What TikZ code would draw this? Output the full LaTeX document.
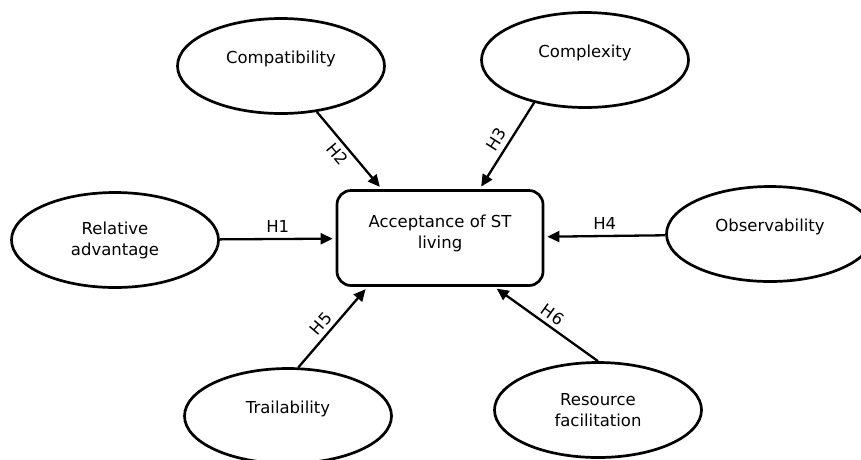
\documentclass[tikz,border=0pt]{standalone}
\usepackage{fontspec}
\setmainfont{DejaVu Sans}
\usetikzlibrary{arrows.meta,shapes.geometric}
\tikzset{
  factor/.style={
    draw=black,
    ellipse,
    line width=2.7pt,
    minimum width=207pt,
    minimum height=95pt,
    inner sep=0pt,
    align=center,
    font=\fontsize{16.5}{21}\selectfont
  },
  oneline/.style={text depth=17pt},
  target/.style={
    draw=black,
    rounded corners=14pt,
    line width=2.7pt,
    minimum width=206pt,
    minimum height=95pt,
    inner sep=0pt,
    align=center,
    text height=25pt,
    font=\fontsize{16.5}{21}\selectfont
  },
  edge/.style={-{Triangle[length=12pt,width=11pt]}, line width=2.3pt, shorten >=3pt},
  hyp/.style={inner sep=2pt, font=\fontsize{16.5}{20}\selectfont}
}

\begin{document}
\begin{tikzpicture}[x=1pt, y=-1pt]
  \useasboundingbox (0,0) rectangle (861,459);
  \node[target] (accept) at (440,238) {Acceptance of ST\\living};
  \node[factor, oneline] (compat) at (281,66) {Compatibility};
  \node[factor, oneline] (complex) at (585,60) {Complexity};
  \node[factor] (relative) at (115,240) {Relative\\advantage};
  \node[factor, oneline] (observe) at (770,234) {Observability};
  \node[factor, oneline] (trial) at (288,416) {Trailability};
  \node[factor] (resource) at (598,410) {Resource\\facilitation};
  \draw[edge] (relative) to node[hyp, above=3pt] {H1} (accept);
  \draw[edge] (compat.308) to node[hyp, sloped, below=2pt, pos=0.45] {H2} (accept.140);
  \draw[edge] (complex.220) to node[hyp, sloped, above=3pt] {H3} (accept.51);
  \draw[edge] (observe) to node[hyp, above=3pt] {H4} (accept);
  \draw[edge] (trial.78) to node[hyp, sloped, above=2pt, pos=0.45] {H5} (accept.214);
  \draw[edge] (resource.north) to node[hyp, sloped, above=2pt] {H6} (accept.318);
\end{tikzpicture}
\end{document}
